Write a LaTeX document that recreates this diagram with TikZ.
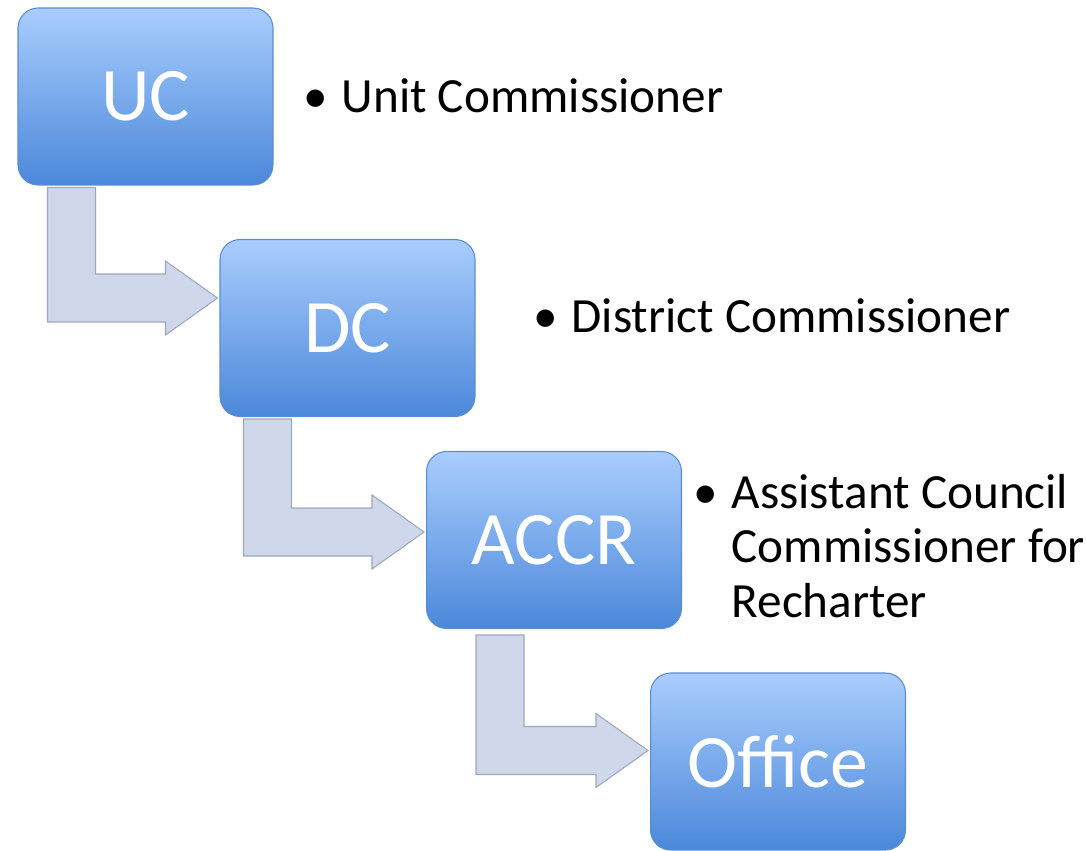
\documentclass[tikz,border=0pt]{standalone}
\usepackage{fontspec}
\setmainfont{Carlito}
\usepackage{tikz}
\usetikzlibrary{calc, shapes.geometric}
\definecolor{boxtop}{HTML}{A9CDFD}
\definecolor{boxmid}{HTML}{7DADF1}
\definecolor{boxbottom}{HTML}{4B88DA}
\definecolor{boxedge}{HTML}{5A8CCF}
\definecolor{arrowfill}{HTML}{CED8EA}
\definecolor{arrowedge}{HTML}{9FA8B9}

\tikzset{
  stagebox/.style={rounded corners=0.4cm, minimum width=5.1cm, minimum height=3.54cm,
    top color=boxtop, middle color=boxmid, bottom color=boxbottom, draw=boxedge, line width=0.6pt,
    text=white, font=\fontsize{43}{43}\selectfont},
  notetext/.style={anchor=base west, inner sep=0pt, font=\fontsize{28}{31.3}\selectfont},
  bentarrow/.style={fill=arrowfill, draw=arrowedge, line width=0.6pt, line join=miter}
}

% bent arrow from one box down and across to the next
% #1 upper box, #2 lower box, #3 shaft offset from left side, #4 tip height offset, #5 gap below box
\newcommand\stagearrow[5]{%
  \draw[bentarrow] ($(#1.south west)+(#3,#5)$) coordinate (p)
    -- ++(48,0)
    -- ($(p |- #2.west)+(48,#4-24)$)
    -- ($(#2.west)+(-54,#4-24)$)
    -- ($(#2.west)+(-54,#4-37)$)
    -- ($(#2.west)+(-2,#4)$)
    -- ($(#2.west)+(-54,#4+37)$)
    -- ($(#2.west)+(-54,#4+24)$)
    -- ($(p |- #2.west)+(0,#4+24)$)
    -- cycle;}

\begin{document}
\begin{tikzpicture}[x=0.02cm, y=-0.02cm]
  \useasboundingbox (0,0) rectangle (1086,851);

  % Boxes
  \node[stagebox] (uc) at (145.5,96.5) {UC};
  \node[stagebox] (dc) at (347.5,328) {DC};
  \node[stagebox] (accr) at (554,540) {ACCR};
  \node[stagebox] (office) at (778,761.5) {Office};

  % Arrows between boxes
  \stagearrow{uc}{dc}{30}{-30}{2}
  \stagearrow{dc}{accr}{24}{-8}{2}
  \stagearrow{accr}{office}{50}{-11}{6}

  % Notes beside boxes
  \node[notetext] (ucnote) at (303,113) {\makebox[0.78em][l]{•}Unit Commissioner};
  \node[notetext] (dcnote) at (533,333) {\makebox[0.78em][l]{•}District Commissioner};
  \node[notetext] (accrnote) at (693,508) {\makebox[0.78em][l]{•}\begin{tabular}[t]{@{}l@{}}Assistant Council\\Commissioner for\\Recharter\end{tabular}};
\end{tikzpicture}
\end{document}
